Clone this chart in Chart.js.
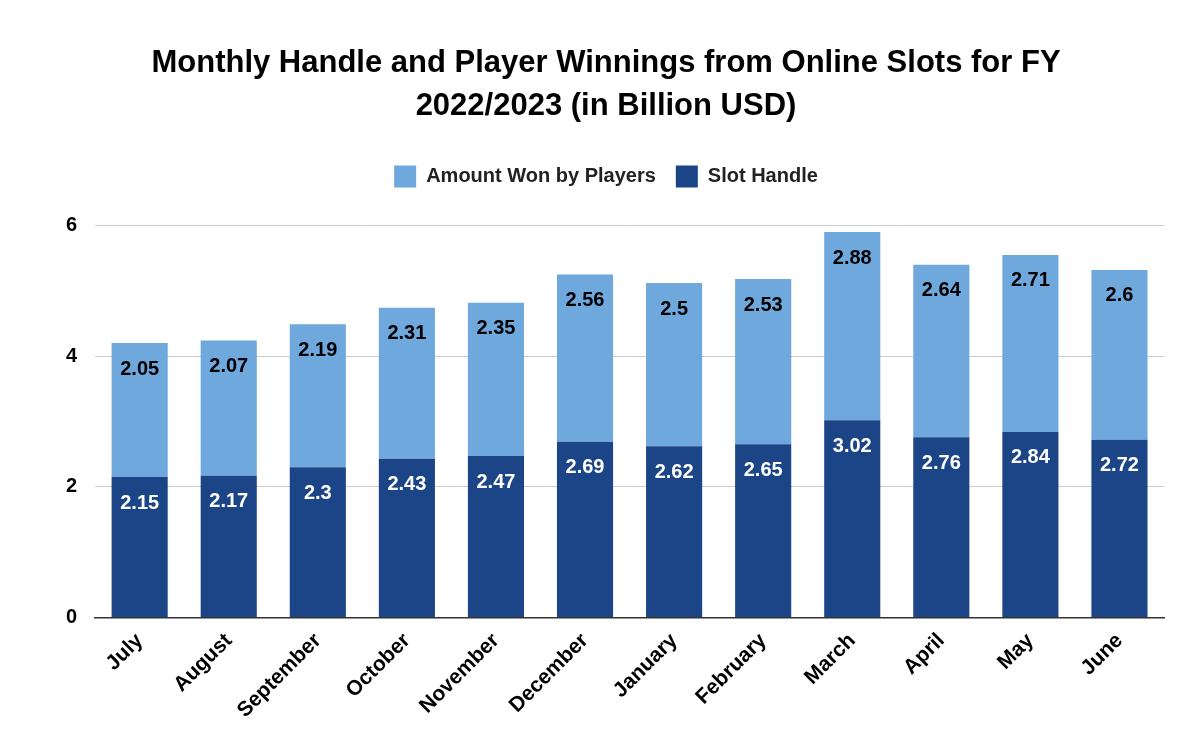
<!DOCTYPE html>
<html>
<head>
<meta charset="utf-8">
<script src="https://cdn.jsdelivr.net/npm/chart.js@4"></script>
<style>
  html, body { margin: 0; padding: 0; background: #fff; }
  #wrap { width: 1200px; height: 742px; }
</style>
</head>
<body>
<div id="wrap"><canvas id="myChart"></canvas></div>
<script>
const months = ['July', 'August', 'September', 'October', 'November', 'December', 'January', 'February', 'March', 'April', 'May', 'June'];
const slotHandle = [2.15, 2.17, 2.3, 2.43, 2.47, 2.69, 2.62, 2.65, 3.02, 2.76, 2.84, 2.72];
const amountWon = [2.05, 2.07, 2.19, 2.31, 2.35, 2.56, 2.5, 2.53, 2.88, 2.64, 2.71, 2.6];
const yTicks = [0, 2, 4, 6];

// draws the value in the middle of each bar segment
const barLabels = {
  id: 'barLabels',
  afterDatasetsDraw(chart) {
    const ctx = chart.ctx;
    ctx.save();
    ctx.font = 'bold 20px "Liberation Sans", Arial, sans-serif';
    ctx.textAlign = 'center';
    ctx.textBaseline = 'middle';
    chart.data.datasets.forEach((ds, i) => {
      const meta = chart.getDatasetMeta(i);
      ctx.fillStyle = i === 0 ? '#ffffff' : '#000000';
      meta.data.forEach((bar, j) => {
        ctx.fillText(String(ds.data[j]), bar.x, bar.y + 26);
      });
    });
    ctx.restore();
  }
};

// extra room under the legend
const legendGap = {
  id: 'legendGap',
  beforeInit(chart) {
    const fit = chart.legend.fit;
    chart.legend.fit = function () {
      fit.bind(chart.legend)();
      this.height += 28;
    };
  }
};

const ctx = document.getElementById('myChart');
new Chart(ctx, {
  type: 'bar',
  data: {
    labels: months,
    datasets: [
      { label: 'Slot Handle', data: slotHandle, backgroundColor: '#1c4587', barPercentage: 0.63, categoryPercentage: 1 },
      { label: 'Amount Won by Players', data: amountWon, backgroundColor: '#6fa8dc', barPercentage: 0.63, categoryPercentage: 1 }
    ]
  },
  options: {
    responsive: true,
    maintainAspectRatio: false,
    animation: false,
    layout: { padding: { top: 42, left: 48, right: 36, bottom: 16 } },
    plugins: {
      title: {
        display: true,
        text: ['Monthly Handle and Player Winnings from Online Slots for FY', '2022/2023 (in Billion USD)'],
        color: '#000',
        font: { family: '"Liberation Sans", Arial, sans-serif', size: 31, weight: 'bold', lineHeight: 1.38 },
        padding: { bottom: 18 }
      },
      legend: {
        reverse: true,
        labels: {
          color: '#222',
          boxWidth: 22, boxHeight: 22,
          padding: 20,
          font: { family: '"Liberation Sans", Arial, sans-serif', size: 20, weight: 'bold' }
        }
      },
      tooltip: { enabled: false }
    },
    scales: {
      x: {
        stacked: true,
        grid: { display: false },
        border: { color: '#333', width: 1.5 },
        ticks: {
          color: '#000', maxRotation: 45, minRotation: 45,
          font: { family: '"Liberation Sans", Arial, sans-serif', size: 21, weight: 'bold' }
        }
      },
      y: {
        stacked: true,
        min: 0, max: 6,
        afterBuildTicks: axis => { axis.ticks = yTicks.map(v => ({ value: v })); },
        grid: { color: '#cccccc', drawTicks: false },
        border: { display: false },
        ticks: {
          color: '#000', padding: 18,
          font: { family: '"Liberation Sans", Arial, sans-serif', size: 20, weight: 'bold' }
        }
      }
    }
  },
  plugins: [barLabels, legendGap]
});
</script>
</body>
</html>
